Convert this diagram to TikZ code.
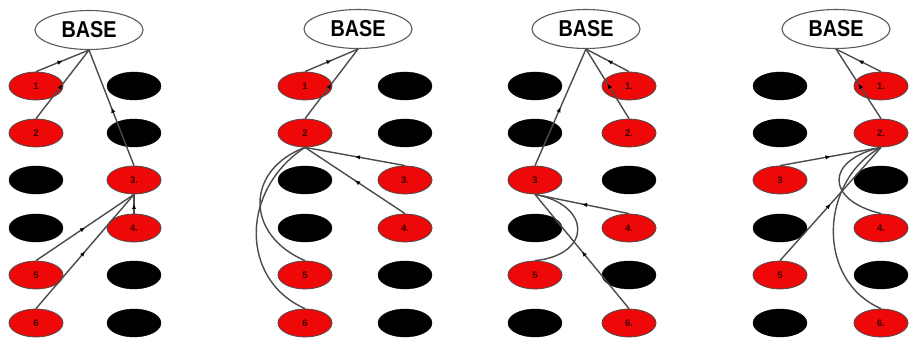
\documentclass[tikz,border=0pt]{standalone}
\usepackage{fontspec}
\setmainfont{Liberation Sans}
\usetikzlibrary{decorations.markings,arrows.meta,shapes.geometric}
\definecolor{nodered}{RGB}{238,8,8}
\definecolor{edgegray}{RGB}{75,75,75}
\definecolor{labdark}{RGB}{60,0,0}
\tikzset{
  rednode/.style={ellipse,draw=black!70,line width=0.8pt,fill=nodered,minimum width=54pt,minimum height=28pt,inner sep=0pt,font=\bfseries\fontsize{9.5}{9.5}\selectfont,text=labdark},
  blknode/.style={ellipse,draw=black,fill=black,minimum width=54pt,minimum height=28pt,inner sep=0pt},
  basenode/.style={ellipse,draw=black!65,line width=1.1pt,fill=white,minimum width=108pt,minimum height=39pt,inner sep=0pt,font=\bfseries\fontsize{23}{23}\selectfont},
  edge/.style={draw=edgegray,line width=1.4pt},
  midarrow/.style={edge,postaction={decorate},decoration={markings,mark=at position 0.5 with {\arrow[black]{Latex[length=5pt,width=4.5pt]}}}}
}
\newcommand\basetext{\scalebox{0.86}[1]{BASE}}
\begin{document}
\begin{tikzpicture}[x=1pt,y=-1pt]
\useasboundingbox (0,0) rectangle (911,342);
\fill[white] (0,0) rectangle (911,342);

% ---------- Panel 1 ----------
\node[basenode] (A-base) at (89,30) {\basetext};
\foreach \i/\y/\st/\lab in {1/86/rednode/1,2/133/rednode/2,3/180/blknode/,4/228/blknode/,5/275/rednode/5,6/323/rednode/6}
  \node[\st] (A-L\i) at (36,\y) {\lab};
\foreach \i/\y/\st/\lab in {1/86/blknode/,2/133/blknode/,3/180/rednode/3.,4/228/rednode/4.,5/275/blknode/,6/323/blknode/}
  \node[\st] (A-R\i) at (134,\y) {\lab};
\draw[midarrow] (A-L1.north) -- (A-base.south);
\draw[midarrow] (A-L2.north) -- (A-base.south);
\draw[midarrow] (A-R3.north) -- (A-base.south);
\draw[midarrow] (A-R4.north) -- (A-R3.south);
\draw[midarrow] (A-L5.north) -- (A-R3.south);
\draw[midarrow] (A-L6.north) -- (A-R3.south);

% ---------- Panel 2 ----------
\node[basenode] (B-base) at (358,29) {\basetext};
\foreach \i/\y/\st/\lab in {1/86/rednode/1,2/133/rednode/2,3/180/blknode/,4/228/blknode/,5/275/rednode/5,6/323/rednode/6}
  \node[\st] (B-L\i) at (305,\y) {\lab};
\foreach \i/\y/\st/\lab in {1/86/blknode/,2/133/blknode/,3/180/rednode/3.,4/228/rednode/4.,5/275/blknode/,6/323/blknode/}
  \node[\st] (B-R\i) at (405,\y) {\lab};
\draw[midarrow] (B-L1.north) -- (B-base.south);
\draw[midarrow] (B-L2.north) -- (B-base.south);
\draw[midarrow] (B-R3.north) -- (B-L2.south);
\draw[midarrow] (B-R4.north) -- (B-L2.south);
\draw[edge] (B-L5.north) .. controls (245,235) and (245,170) .. (B-L2.south);
\draw[edge] (B-L6.north) .. controls (240,280) and (240,190) .. (B-L2.south);

% ---------- Panel 3 ----------
\node[basenode] (C-base) at (586,29) {\basetext};
\foreach \i/\y/\st/\lab in {1/86/blknode/,2/133/blknode/,3/180/rednode/3,4/228/blknode/,5/275/rednode/5,6/323/blknode/}
  \node[\st] (C-L\i) at (535,\y) {\lab};
\foreach \i/\y/\st/\lab in {1/86/rednode/1.,2/133/rednode/2.,3/180/blknode/,4/228/rednode/4.,5/275/blknode/,6/323/rednode/6.}
  \node[\st] (C-R\i) at (629,\y) {\lab};
\draw[midarrow] (C-R1.north) -- (C-base.south);
\draw[midarrow] (C-R2.north) -- (C-base.south);
\draw[midarrow] (C-L3.north) -- (C-base.south);
\draw[midarrow] (C-R4.north) -- (C-L3.south);
\draw[midarrow] (C-R6.north) -- (C-L3.south);
\draw[edge] (C-L5.north) .. controls (592,255) and (592,205) .. (C-L3.south);

% ---------- Panel 4 ----------
\node[basenode] (D-base) at (836,29) {\basetext};
\foreach \i/\y/\st/\lab in {1/86/blknode/,2/133/blknode/,3/180/rednode/3,4/228/blknode/,5/275/rednode/5,6/323/blknode/}
  \node[\st] (D-L\i) at (780,\y) {\lab};
\foreach \i/\y/\st/\lab in {1/86/rednode/1.,2/133/rednode/2.,3/180/blknode/,4/228/rednode/4.,5/275/blknode/,6/323/rednode/6.}
  \node[\st] (D-R\i) at (881,\y) {\lab};
\draw[midarrow] (D-R1.north) -- (D-base.south);
\draw[midarrow] (D-R2.north) -- (D-base.south);
\draw[midarrow] (D-L3.north) -- (D-R2.south);
\draw[midarrow] (D-L5.north) -- (D-R2.south);
\draw[edge] (D-R4.north) .. controls (825,200) and (825,160) .. (D-R2.south);
\draw[edge] (D-R6.north) .. controls (815,280) and (820,180) .. (D-R2.south);
\end{tikzpicture}
\end{document}
